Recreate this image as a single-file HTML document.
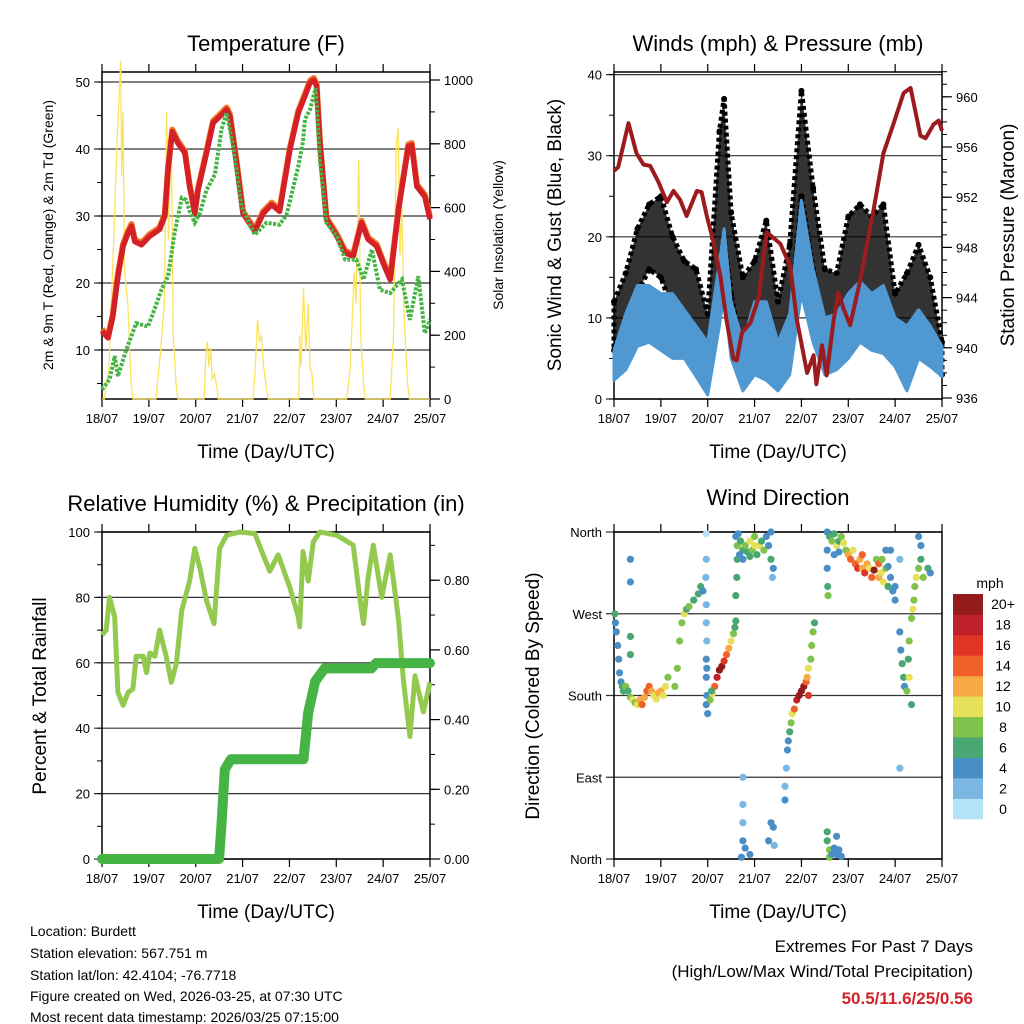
<!DOCTYPE html>
<html><head><meta charset="utf-8"><style>
html,body{margin:0;padding:0;background:#fff;}
svg{display:block;font-family:"Liberation Sans",sans-serif;}
</style></head><body>
<svg id="c" width="1024" height="1024" viewBox="0 0 1024 1024" xmlns="http://www.w3.org/2000/svg">
<g font-size="22" text-anchor="middle" fill="#000">
<text x="266" y="51">Temperature (F)</text>
<text x="778" y="51">Winds (mph) &amp; Pressure (mb)</text>
<text x="266" y="511">Relative Humidity (%) &amp; Precipitation (in)</text>
<text x="778" y="505">Wind Direction</text>
</g>
<g font-size="19" text-anchor="middle">
<text x="266" y="458">Time (Day/UTC)</text>
<text x="778" y="458">Time (Day/UTC)</text>
<text x="266" y="918">Time (Day/UTC)</text>
<text x="778" y="918">Time (Day/UTC)</text>
</g>
<g text-anchor="middle">
<text transform="translate(53,235) rotate(-90)" font-size="14">2m &amp; 9m T (Red, Orange) &amp; 2m Td (Green)</text>
<text transform="translate(503,235) rotate(-90)" font-size="14">Solar Insolation (Yellow)</text>
<text transform="translate(561,235) rotate(-90)" font-size="19">Sonic Wind &amp; Gust (Blue, Black)</text>
<text transform="translate(1014,235) rotate(-90)" font-size="19">Station Pressure (Maroon)</text>
<text transform="translate(46,696) rotate(-90)" font-size="19">Percent &amp; Total Rainfall</text>
<text transform="translate(539,696) rotate(-90)" font-size="19">Direction (Colored By Speed)</text>
</g>
<g font-size="14">
<text x="30" y="936">Location: Burdett</text>
<text x="30" y="958">Station elevation: 567.751 m</text>
<text x="30" y="980">Station lat/lon: 42.4104; -76.7718</text>
<text x="30" y="1001">Figure created on Wed, 2026-03-25, at 07:30 UTC</text>
<text x="30" y="1022">Most recent data timestamp: 2026/03/25 07:15:00</text>
</g>
<g font-size="17" text-anchor="end">
<text x="973" y="952">Extremes For Past 7 Days</text>
<text x="973" y="977">(High/Low/Max Wind/Total Precipitation)</text>
<text x="973" y="1004" fill="#d1232a" font-weight="bold">50.5/11.6/25/0.56</text>
</g>
<text x="990" y="588" font-size="14" text-anchor="middle">mph</text>
</svg>
<script>
// ---- data ----
const xTickLabels=["18/07","19/07","20/07","21/07","22/07","23/07","24/07","25/07"];
const tempTicks=[10,20,30,40,50];
const solarTicks=[0,200,400,600,800,1000];
const windTicks=[0,10,20,30,40];
const presTicks=[936,940,944,948,952,956,960];
const rhTicks=[0,20,40,60,80,100];
const precipTicks=["0.00","0.20","0.40","0.60","0.80"];
const dirTicks=["North","East","South","West","North"];
const speedBinLabels=["0","2","4","6","8","10","12","14","16","18","20+"];
const speedColors=["#b5e3f7","#7ab8e3","#4a8ec6","#4aa672","#7fc24c","#e6e05a","#f6a843","#f0622a","#e03426","#c0202a","#941b1b"];

const tempDays=[0,0.13,0.23,0.34,0.45,0.56,0.63,0.7,0.84,1.02,1.23,1.34,1.41,1.5,1.62,1.77,1.87,1.98,2.05,2.23,2.37,2.55,2.66,2.73,2.87,3.01,3.26,3.44,3.62,3.79,4.01,4.19,4.33,4.44,4.52,4.58,4.65,4.79,5.01,5.19,5.36,5.54,5.68,5.86,6.0,6.15,6.33,6.54,6.61,6.72,6.89,7.0];
const tempVals=[12.8,11.8,15,21,25.5,27.5,28.5,26.2,25.7,27,28,30,37,42.6,40.9,39.4,34.4,30.4,33.9,39.4,43.9,45.1,45.9,44.9,37.9,30.4,27.7,30.4,31.7,30.7,39.9,45.4,47.9,49.9,50.3,49.4,40.9,29.5,27,24.5,24,29,26.5,25.5,23,20.5,31,40.4,40.6,34.4,32.9,29.5];
const dewDays=[0,0.16,0.27,0.34,0.52,0.73,0.98,1.09,1.27,1.41,1.55,1.7,1.8,1.87,1.98,2.09,2.23,2.41,2.55,2.66,2.8,2.98,3.26,3.51,3.79,3.94,4.19,4.29,4.33,4.44,4.56,4.65,4.79,5.01,5.19,5.43,5.58,5.76,5.93,6.15,6.4,6.57,6.75,6.89,7.0];
const dewVals=[4.1,5.6,9.1,6.1,10.1,14,13.5,15.5,19,21,27.5,32.7,32.4,30.7,29,30.4,33.9,36.2,42.9,45.4,40.4,31.4,27.2,29,28.7,30.2,37.4,41.1,44.4,45.9,49.1,38.4,29,27,23.5,23.5,20.5,25,19,18.5,20.5,14.5,21,12.5,14.5];
const solarDays=[0,0.05,0.15,0.25,0.32,0.38,0.40,0.42,0.45,0.48,0.55,0.62,0.66,1.15,1.25,1.33,1.38,1.42,1.48,1.52,1.58,1.62,2.18,2.22,2.25,2.28,2.32,2.35,2.40,2.45,2.48,3.22,3.27,3.32,3.36,3.40,3.45,3.50,3.55,4.20,4.22,4.25,4.30,4.35,4.40,4.44,4.48,4.52,5.22,5.30,5.38,5.42,5.48,5.52,5.58,5.62,6.15,6.22,6.28,6.32,6.36,6.40,6.45,6.52,6.56,7.0];
const solarVals=[0,0,100,500,800,1000,1060,700,900,400,300,50,0,0,150,300,900,500,850,200,50,0,0,150,180,100,160,60,80,40,0,0,90,250,180,200,100,40,0,0,200,100,350,150,300,100,80,0,0,100,400,300,750,200,50,0,0,200,800,850,450,600,250,50,0,0];

const presDays=[0,0.09,0.31,0.48,0.63,0.77,0.95,1.13,1.27,1.41,1.55,1.77,1.87,1.98,2.12,2.27,2.41,2.55,2.62,2.73,2.91,3.08,3.26,3.55,3.76,3.9,4.12,4.26,4.32,4.44,4.54,4.69,4.79,4.9,5.04,5.26,5.54,5.75,5.97,6.18,6.33,6.54,6.65,6.82,6.93,7.0];
const presVals=[954.1,954.4,957.9,955.5,954.6,954.5,953.2,951.6,952.5,951.8,950.5,952.5,952.4,950.5,948.5,945.7,942,939.1,939,941.2,942,943.9,949.2,948.3,946.5,942.3,938,939.4,937.1,940.2,937.8,942.3,944.4,943.1,941.8,945.5,951,955.5,957.9,960.3,960.7,956.9,956.7,957.8,958.1,957.3];
const windDays=[0,0.25,0.5,0.75,1,1.25,1.5,1.75,2,2.25,2.35,2.5,2.75,3,3.25,3.5,3.75,4,4.25,4.5,4.75,5,5.25,5.5,5.75,6,6.25,6.5,6.75,7];
const gustHi=[12,15.5,21,24,25,20,17,16,10.5,33,37,23,15,17,22,12,19,38,26,16,15.5,22.5,24,22.5,24,13,15.5,19,15,7];
const gustLo=[6,9,13,16,15,11,9,8,3,17,20,13,5,7,7,5,9,25,16,7,9,11,14,11,13,5,7,10.5,7,3];
const windHi=[6,10.5,14,14,13,13,11,9,7,17,21,12,7,12,12,7,10.5,24.5,16,10,10.5,13,14.5,13,14,10,9,11,9,6.5];
const windLo=[2.3,3.6,6.5,7,6,5,5,2.8,0.5,9,13,5,1,3,2.3,1,3,13,7,3,3.6,5,7,6,5.6,4,1,5,4,2.8];

const rhDays=[0,0.09,0.16,0.27,0.34,0.45,0.56,0.66,0.73,0.88,0.95,1.02,1.13,1.23,1.37,1.48,1.59,1.7,1.87,1.98,2.09,2.23,2.39,2.51,2.66,2.94,3.26,3.44,3.58,3.76,4.01,4.19,4.22,4.29,4.4,4.51,4.65,5.01,5.36,5.5,5.58,5.68,5.79,5.97,6.15,6.33,6.43,6.57,6.68,6.86,7.0];
const rhVals=[68.5,70,80,74,51,47,51,52,62,62,57,63,62,70,62,54,60,76,85,95,89,79,72,95,99,100,99.5,93,88,93,83,74,71,94,85,97,100,99,96,80,72,86,96,80,93,73,55,37.5,56,45,54];
const precipDays=[0,2.5,2.55,2.62,2.75,4.3,4.4,4.55,4.75,5.75,5.85,7.0];
const precipVals=[0,0,0.1,0.257,0.286,0.286,0.42,0.51,0.547,0.547,0.562,0.562];

const dirDays=[0.02,0.03,0.05,0.08,0.1,0.12,0.15,0.18,0.2,0.25,0.3,0.35,0.4,0.45,0.5,0.55,0.6,0.65,0.7,0.75,0.8,0.85,0.9,0.95,1.0,1.05,1.1,1.15,0.35,0.35,0.35,0.35,
1.3,1.35,1.4,1.45,1.5,1.55,1.6,1.7,1.8,1.85,1.9,
1.97,1.97,1.96,1.97,1.97,1.98,1.97,1.98,1.97,1.98,1.97,2.0,
2.1,2.15,2.2,2.25,2.3,2.35,2.4,2.45,2.5,2.55,2.58,2.6,2.05,2.08,
2.6,2.62,2.63,2.63,2.6,
2.65,2.7,2.75,2.8,2.85,2.9,2.95,3.0,3.05,3.1,3.15,3.2,3.25,3.3,3.35,3.35,3.4,3.38,2.68,2.75,2.9,3.0,
2.75,2.75,2.75,2.75,2.8,2.9,2.72,3.3,3.35,3.4,3.42,
3.65,3.68,3.7,3.72,3.75,3.78,3.8,3.85,3.9,3.95,4.0,4.05,4.1,4.12,4.15,4.2,4.22,4.25,4.28,3.65,4.15,
4.55,4.55,4.6,4.6,4.65,4.7,4.75,4.75,4.8,4.85,
4.55,4.55,4.55,4.56,4.57,
4.6,4.65,4.7,4.75,4.8,4.85,4.9,4.95,5.0,5.05,5.1,5.15,5.2,5.25,5.3,4.7,4.8,
5.3,5.35,5.4,5.45,5.5,5.55,5.6,5.65,5.7,5.75,5.8,5.85,5.9,5.95,6.0,5.65,5.72,6.0,5.8,5.85,
6.1,6.12,6.15,6.18,6.2,6.25,6.3,6.28,6.3,6.35,6.38,6.4,6.42,6.45,6.5,6.55,6.6,6.7,6.75,6.55,6.5,6.35,6.1,6.1,5.9];
const dirDeg=[270,260,250,235,220,205,195,190,185,190,185,178,175,172,170,175,170,178,185,190,185,180,176,183,185,180,190,200,330,305,245,225,
190,210,240,260,270,275,278,285,292,300,295,
358,330,310,280,260,240,220,210,200,180,170,160,
182,190,200,208,212,218,225,232,240,248,255,262,175,185,
290,310,330,345,355,
358,350,340,345,338,350,340,355,335,345,350,340,355,345,330,360,320,310,335,330,333,345,
90,60,40,20,12,5,2,20,40,35,15,
80,100,120,130,140,150,160,165,175,180,185,190,195,200,210,220,235,250,260,65,180,
30,20,10,2,5,12,5,25,10,3,
360,340,320,300,290,
355,350,358,345,350,355,348,340,335,330,340,325,320,330,320,335,338,
335,315,325,320,310,318,330,310,315,305,320,300,310,295,300,325,330,285,340,322,
250,230,215,200,190,185,200,220,240,265,275,285,300,310,320,330,310,320,315,345,355,170,330,100,340];
const dirSpeed=[6,4,4,4,4,4,4,6,6,8,6,8,10,8,10,12,14,12,14,14,12,10,10,12,12,10,10,8,4,4,6,6,
8,8,8,8,10,6,8,6,6,6,4,
0,2,2,2,2,2,4,4,4,4,4,4,
10,14,18,20,20,16,14,12,10,8,6,6,8,6,
6,6,6,8,4,
4,6,6,8,6,10,8,8,6,10,6,8,4,4,6,4,4,2,4,4,6,10,
2,2,2,4,4,4,4,4,4,4,2,
2,2,4,4,6,8,10,14,18,20,20,20,14,12,10,8,8,8,6,4,16,
6,6,8,8,4,4,4,4,4,4,
4,4,4,6,8,
6,8,6,10,6,8,10,8,12,14,10,14,16,12,12,4,4,
14,16,12,10,14,20,8,12,10,10,8,6,4,4,4,14,8,4,4,4,
4,4,6,6,4,8,10,6,8,8,10,8,8,10,8,6,8,6,4,4,4,6,2,2,4];

// ---- drawing ----
const NS="http://www.w3.org/2000/svg";
const svg=document.getElementById('c');
function mk(tag,attrs,parent){const e=document.createElementNS(NS,tag);for(const k in attrs)e.setAttribute(k,attrs[k]);(parent||svg).appendChild(e);return e;}
const L1=102,R1=430,L2=614,R2=942;
const sx1=d=>L1+d*(R1-L1)/7, sx2=d=>L2+d*(R2-L2)/7;
const yT=v=>350-(v-10)*6.7, yS=v=>399-v*0.319;
const yW=v=>399-v*8.11, yP=v=>398-(v-936)*12.55;
const yRH=v=>859-v*3.27, yPr=v=>859-v*348.5;
const yD=v=>859-v*327/360;
function pts(xs,ys,fx,fy){return xs.map((d,i)=>fx(d).toFixed(1)+","+fy(ys[i]).toFixed(1)).join(" ");}

function frame(x0,x1,y0,y1,name){
  const g=mk('g',{});
  
  
  mk('rect',{x:x0,y:y0,width:x1-x0,height:y1-y0,fill:'none',stroke:'#000','stroke-width':1.5},g);
  xTickLabels.forEach((t,i)=>{
    const x=x0+i*(x1-x0)/7;
    mk('line',{x1:x,x2:x,y1:y1,y2:y1+8,stroke:'#000','stroke-width':1.2},g);
    mk('line',{x1:x,x2:x,y1:y0,y2:y0-8,stroke:'#000','stroke-width':1.2},g);
    const tx=mk('text',{x:x,y:y1+24,'font-size':13,'text-anchor':'middle'},g);
    
    
    tx.textContent=t;
  });
  return g;
}
function grid(g,x0,x1,y){mk('line',{x1:x0-8,x2:x1,y1:y,y2:y,stroke:'#000','stroke-width':1.2,'stroke-opacity':0.8},g);}
function leftLabel(g,x0,y,t){const e=mk('text',{x:x0-12,y:y+5,'font-size':13,'text-anchor':'end'},g);e.textContent=t;}
function rightTicks(g,x1,y0,y1,major,labels,fy,minorStep,minorRange,fs){
  for(let v=minorRange[0];v<=minorRange[1]+1e-9;v+=minorStep){const y=fy(v);if(y>=y0-1&&y<=y1+1)mk('line',{x1:x1,x2:x1+5,y1:y,y2:y,stroke:'#000','stroke-width':1},g);}
  major.forEach((v,i)=>{const y=fy(v);mk('line',{x1:x1,x2:x1+10,y1:y,y2:y,stroke:'#000','stroke-width':1.2},g);
    const e=mk('text',{x:x1+14,y:y+5,'font-size':fs||13},g);e.textContent=labels[i];});
}
function leftMinor(g,x0,y0,y1,fy,step,range){for(let v=range[0];v<=range[1]+1e-9;v+=step){const y=fy(v);if(y>=y0-1&&y<=y1+1)mk('line',{x1:x0,x2:x0-5,y1:y,y2:y,stroke:'#000','stroke-width':1},g);}}

// Panel 1: temperature
let g1=frame(L1,R1,72,399,'temperature');
tempTicks.forEach(v=>{grid(g1,L1,R1,yT(v));leftLabel(g1,L1,yT(v),String(v));});
leftMinor(g1,L1,72,399,yT,5,[0,55]);
rightTicks(g1,R1,72,399,solarTicks,solarTicks.map(String),yS,100,[0,1000]);
const sol=mk('polyline',{points:pts(solarDays,solarVals,sx1,yS),fill:'none',stroke:'#fde35a','stroke-width':1.3});


const t9=mk('polyline',{points:pts(tempDays,tempVals.map(v=>v+0.3),sx1,yT),fill:'none',stroke:'#f07a2a','stroke-width':6,'stroke-linejoin':'round'});


const t2=mk('polyline',{points:pts(tempDays,tempVals,sx1,yT),fill:'none',stroke:'#d42027','stroke-width':5.5,'stroke-linejoin':'round'});


const td=mk('polyline',{points:pts(dewDays,dewVals,sx1,yT),fill:'none',stroke:'#46b445','stroke-width':4,'stroke-dasharray':'3 1.5'});



// Panel 2: wind & pressure
let g2=frame(L2,R2,72,399,'wind');
windTicks.forEach(v=>{grid(g2,L2,R2,yW(v));leftLabel(g2,L2,yW(v),String(v));});
leftMinor(g2,L2,72,399,yW,5,[0,40]);
rightTicks(g2,R2,72,399,presTicks,presTicks.map(String),yP,1,[936,962],13);
function band(hi,lo,col,op,sw,name){
  const p=windDays.map((d,i)=>sx2(d).toFixed(1)+","+yW(hi[i]).toFixed(1)).concat(windDays.slice().reverse().map((d,j)=>{const i=windDays.length-1-j;return sx2(d).toFixed(1)+","+yW(lo[i]).toFixed(1);})).join(" ");
  const e=mk('polygon',{points:p,fill:col,'fill-opacity':op,stroke:col,'stroke-width':sw,'stroke-linejoin':'round','stroke-dasharray':sw>3?'4 3':'none'});
  
  
}
band(gustHi,gustLo,'#000',0.8,5,'gust-band');
const gd=mk('g',{});


windDays.forEach((d,i)=>{mk('circle',{cx:sx2(d),cy:yW(gustHi[i]),r:3,fill:'#000'},gd);mk('circle',{cx:sx2(d),cy:yW(gustLo[i]),r:3,fill:'#000'},gd);});
band(windHi,windLo,'#4f98d2',1,3,'wind-band');
const pr=mk('polyline',{points:pts(presDays,presVals,sx2,yP),fill:'none',stroke:'#9b1b1e','stroke-width':4,'stroke-linejoin':'round'});



// Panel 3: RH & precip
let g3=frame(L1,R1,532,859,'humidity');
rhTicks.forEach(v=>{grid(g3,L1,R1,yRH(v));leftLabel(g3,L1,yRH(v),String(v));});
leftMinor(g3,L1,532,859,yRH,10,[0,100]);
rightTicks(g3,R1,532,859,precipTicks.map(Number),precipTicks,yPr,0.1,[0,0.9]);
const rh=mk('polyline',{points:pts(rhDays,rhVals,sx1,yRH),fill:'none',stroke:'#92c94e','stroke-width':5,'stroke-linejoin':'round'});


const pc=mk('polyline',{points:pts(precipDays,precipVals,sx1,yPr),fill:'none',stroke:'#46b445','stroke-width':10,'stroke-linejoin':'round','stroke-linecap':'round'});



// Panel 4: wind direction
let g4=frame(L2,R2,532,859,'direction');
dirTicks.forEach((t,i)=>{const y=yD(i*90);grid(g4,L2,R2,y);leftLabel(g4,L2,y,t);});
const dg=mk('g',{});


dirDays.forEach((d,i)=>{const b=Math.min(10,Math.floor(dirSpeed[i]/2));
  const c=mk('circle',{cx:sx2(d).toFixed(1),cy:yD(dirDeg[i]).toFixed(1),r:3.6,fill:speedColors[b]},dg);
  
  });
// colorbar
const cb=mk('g',{});


const bh=225/11;
speedColors.forEach((col,i)=>{const y=819-(i+1)*bh;
  const r=mk('rect',{x:953,y:y.toFixed(1),width:30,height:(bh+0.3).toFixed(1),fill:col},cb);
  
  
  const t=mk('text',{x:1003,y:(y+bh/2+5).toFixed(1),'font-size':14,'text-anchor':'middle'},cb);
  
  
  t.textContent=speedBinLabels[i];});
</script>
</body></html>
